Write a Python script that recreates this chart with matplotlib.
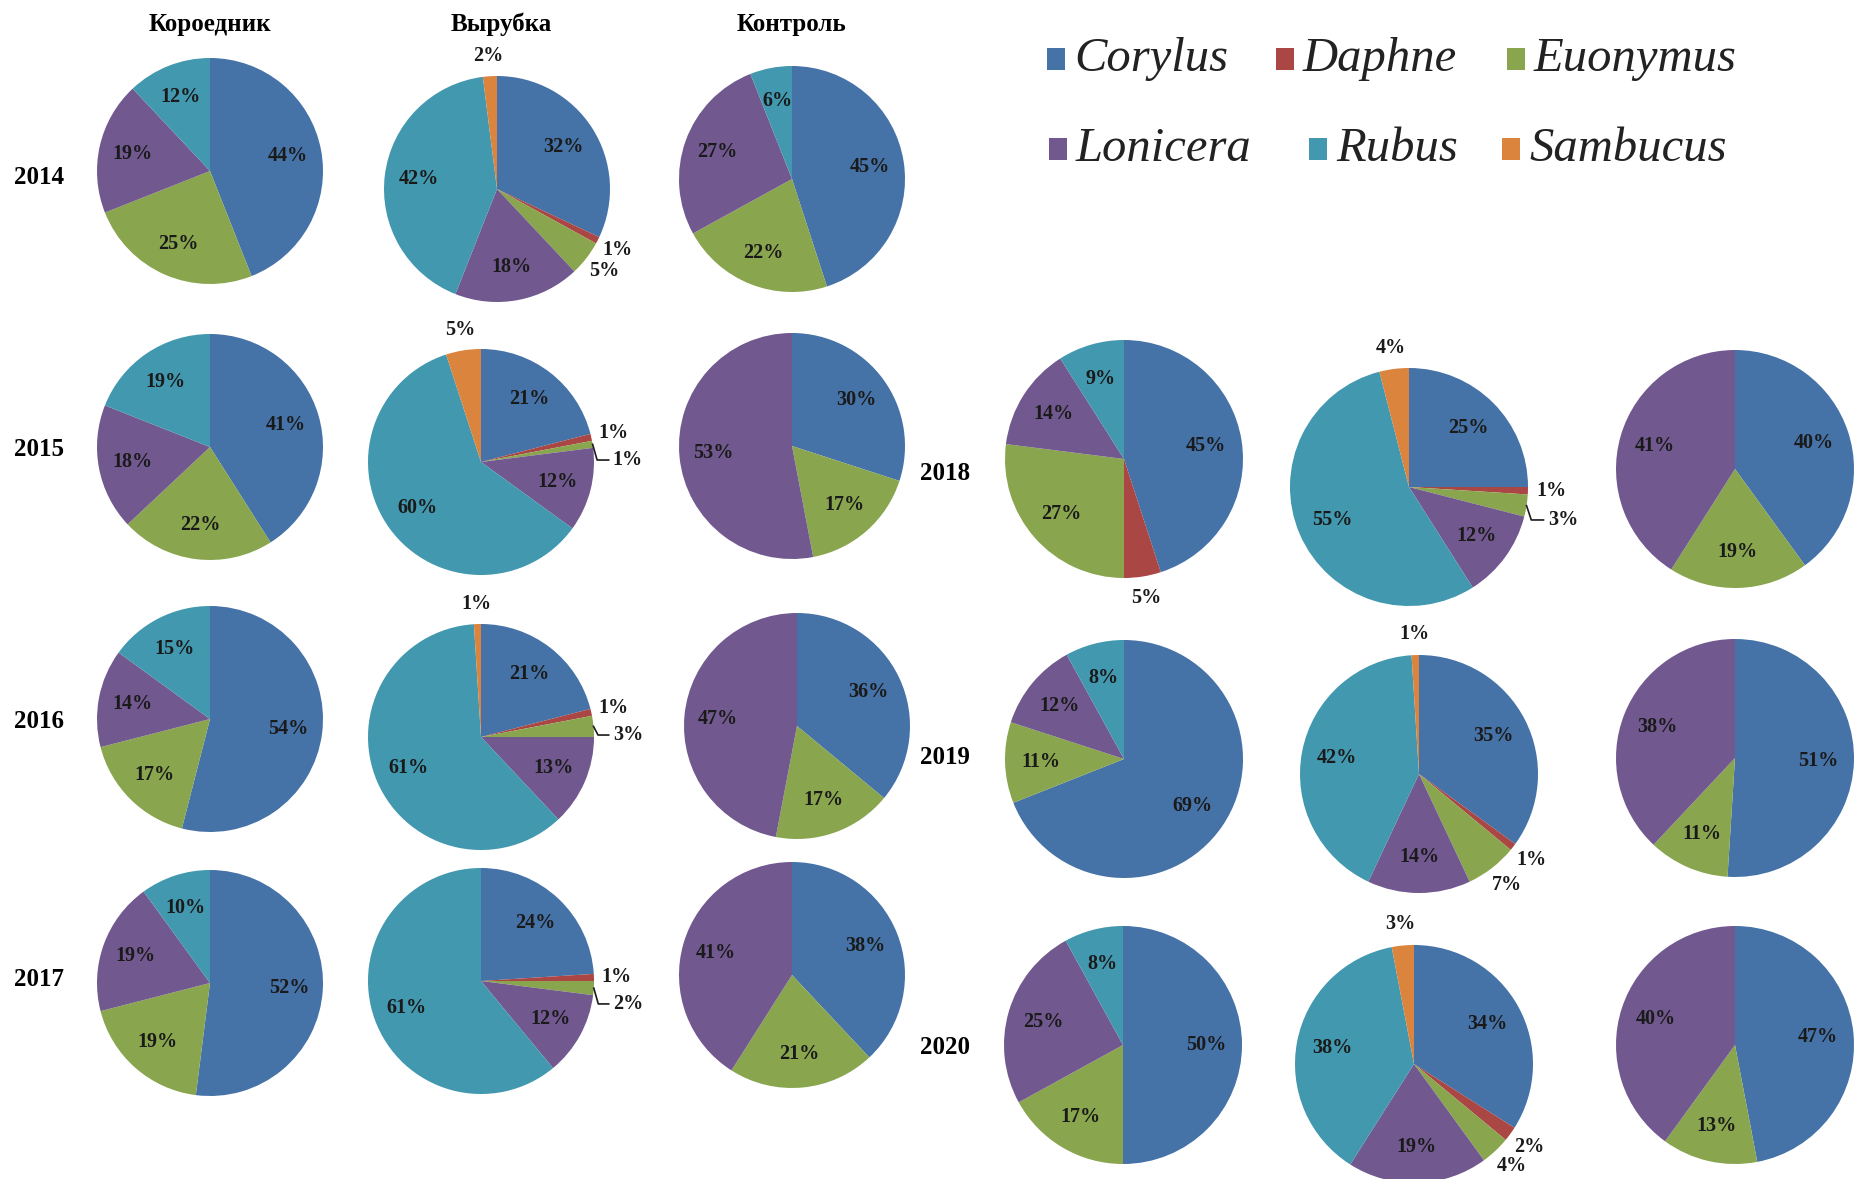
import numpy as np
import matplotlib
matplotlib.use("Agg")
import matplotlib.pyplot as plt
from matplotlib.patches import Rectangle

# species shares (%) per year, order: Corylus, Daphne, Euonymus, Lonicera, Rubus, Sambucus
species = ["Corylus", "Daphne", "Euonymus", "Lonicera", "Rubus", "Sambucus"]
colors = ["#4572A7", "#AA4643", "#89A54E", "#71588F", "#4198AF", "#DB843D"]
sites = ["Короедник", "Вырубка", "Контроль"]
years = [2014, 2015, 2016, 2017, 2018, 2019, 2020]

koroednik = [
    [44, 0, 25, 19, 12, 0],
    [41, 0, 22, 18, 19, 0],
    [54, 0, 17, 14, 15, 0],
    [52, 0, 19, 19, 10, 0],
    [45, 5, 27, 14, 9, 0],
    [69, 0, 11, 12, 8, 0],
    [50, 0, 17, 25, 8, 0],
]
vyrubka = [
    [32, 1, 5, 18, 42, 2],
    [21, 1, 1, 12, 60, 5],
    [21, 1, 3, 13, 61, 1],
    [24, 1, 2, 12, 61, 0],
    [25, 1, 3, 12, 55, 4],
    [35, 1, 7, 14, 42, 1],
    [34, 2, 4, 19, 38, 3],
]
kontrol = [
    [45, 0, 22, 27, 6, 0],
    [30, 0, 17, 53, 0, 0],
    [36, 0, 17, 47, 0, 0],
    [38, 0, 21, 41, 0, 0],
    [40, 0, 19, 41, 0, 0],
    [51, 0, 11, 38, 0, 0],
    [47, 0, 13, 40, 0, 0],
]
site_data = [koroednik, vyrubka, kontrol]

# layout in pixels (x from left, y from top)
W, H = 1854, 1179
centers = [
    [(210, 171), (210, 447), (210, 719), (210, 983), (1124, 459), (1124, 759), (1123, 1045)],
    [(497, 189), (481, 462), (481, 737), (481, 981), (1409, 487), (1419, 774), (1414, 1064)],
    [(792, 179), (792, 446), (797, 726), (792, 975), (1735, 469), (1735, 758), (1735, 1045)],
]
radius_left, radius_right = 113, 119
header_pos = [(210, 24), (501, 24), (792, 24)]
year_pos = [(39, 177), (39, 449), (39, 722), (39, 979), (945, 473), (945, 758), (945, 1048)]

serif = "Liberation Serif"
fig = plt.figure(figsize=(W / 100, H / 100), dpi=100)
ax = fig.add_axes([0, 0, 1, 1])

for s, data in enumerate(site_data):
    for k, vals in enumerate(data):
        cx, cy = centers[s][k]
        cy = H - cy
        r = radius_left if k < 4 else radius_right
        idx = [i for i, v in enumerate(vals) if v > 0]
        wedges, _ = ax.pie([vals[i] for i in idx], colors=[colors[i] for i in idx],
                           startangle=90, counterclock=False, center=(cx, cy),
                           radius=r, wedgeprops=dict(linewidth=0))
        prev_y = None
        for w, i in zip(wedges, idx):
            v = vals[i]
            a = np.deg2rad((w.theta1 + w.theta2) / 2)
            ca, sa = np.cos(a), np.sin(a)
            if v > 7 or species[i] == "Rubus":
                ax.text(cx + 0.7 * r * ca, cy + 0.7 * r * sa, f"{v}%", ha="center",
                        va="center", fontsize=14.5, fontweight="bold", family=serif,
                        color="#1a1a1a")
                continue
            lx, ly = 1.2 * ca, 1.18 * sa
            if prev_y is not None and abs(ly - prev_y) < 0.16:
                # small neighbouring slices: drop the label and add a leader
                ly = prev_y - 0.24
                lx = 1.3
                ex, ey = 1.0 * ca, 1.0 * sa
                ax.plot([cx + ex * r, cx + (ex + 0.04) * r, cx + (lx - 0.17) * r],
                        [cy + ey * r, cy + ly * r, cy + ly * r],
                        color="#1a1a1a", lw=1.2)
            ax.text(cx + lx * r, cy + ly * r, f"{v}%", ha="center", va="center",
                    fontsize=14.5, fontweight="bold", family=serif, color="#1a1a1a")
            if ca > 0:
                prev_y = ly

for name, (x, y) in zip(sites, header_pos):
    ax.text(x, H - y, name, ha="center", va="center", fontsize=18,
            fontweight="bold", family=serif)
for yr, (x, y) in zip(years, year_pos):
    ax.text(x, H - y, str(yr), ha="center", va="center", fontsize=18,
            fontweight="bold", family=serif)

# legend
legend_pos = [(1056, 59), (1285, 59), (1516, 59), (1058, 149), (1318, 149), (1511, 149)]
for name, c, (x, y) in zip(species, colors, legend_pos):
    ax.add_patch(Rectangle((x - 9, H - y - 11), 18, 22, facecolor=c, edgecolor="none"))
    ax.text(x + 18, H - y, name, ha="left", va="center", fontsize=35,
            fontstyle="italic", family=serif, color="#222222")

ax.set_xlim(0, W)
ax.set_ylim(0, H)
ax.set_aspect("auto")
ax.axis("off")
fig.savefig("out.png", dpi=100, facecolor="white")
